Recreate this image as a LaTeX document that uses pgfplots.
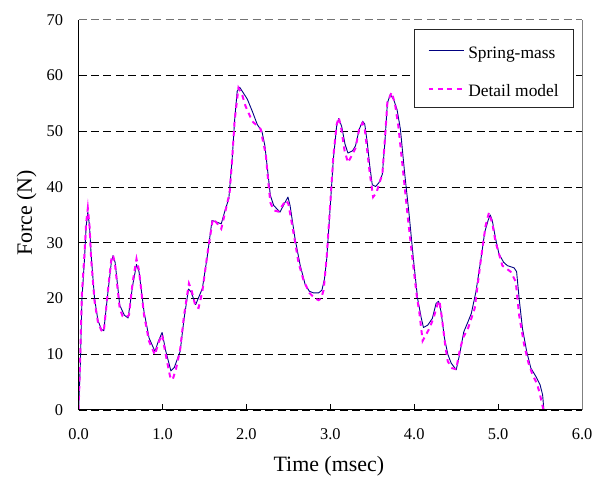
\documentclass[border=0pt]{standalone}
\usepackage{fontspec}
\setmainfont{Liberation Serif}
\usepackage{pgfplots}
\pgfplotsset{compat=1.18}
\usetikzlibrary{calc}
\definecolor{navyc}{RGB}{0,0,128}
\definecolor{magc}{RGB}{255,0,255}
\begin{document}
\begin{tikzpicture}
\begin{axis}[
  scale only axis, width=506bp, height=392bp,
  xmin=0, xmax=6, ymin=0, ymax=70,
  clip mode=individual,
  axis line style={draw=none},
  xtick={0,1,2,3,4,5,6},
  xticklabels={0.0,1.0,2.0,3.0,4.0,5.0,6.0},
  ytick={0,10,20,30,40,50,60},
  yticklabels={0,10,20,30,40,50,60},
  extra y ticks={70}, extra y tick labels={70},
  extra y tick style={major grid style={black!55, line width=0.8bp, dash pattern=on 8bp off 4.5bp}},
  xtick pos=left, ytick pos=left,
  tick align=inside, major tick length=6bp,
  x tick style={black, line width=0.9bp},
  y tick style={draw=none},
  ymajorgrids,
  major grid style={black, line width=0.8bp, dash pattern=on 8bp off 4.5bp},
  tick label style={font=\fontsize{16.5bp}{19bp}\selectfont},
  yticklabel style={xshift=-12bp},
  xticklabel style={yshift=-15bp},
  label style={font=\fontsize{22bp}{26bp}\selectfont},
  xlabel={Time (msec)},
  ylabel={Force (N)},
  xlabel style={at={(axis description cs:0.497,-0.159)}, anchor=base},
  ylabel style={at={(axis description cs:-0.0929,0.505)}, anchor=base, rotate=0},
  legend style={at={(axis description cs:0.984,0.977)}, anchor=north east,
    draw=black!85, line width=0.7bp, fill=white,
    font=\fontsize{17.5bp}{21bp}\selectfont,
    inner xsep=13bp, inner ysep=8.6bp, row sep=15.7bp, column sep=1bp,
    nodes={inner sep=2bp, text height=18.7bp, text depth=0pt},
    cells={anchor=west}},
  legend image code/.code={\path[draw=none,fill=none] (0bp,-4bp) rectangle (36bp,4bp); \draw[#1] (0bp,-1.45bp) -- (36bp,-1.45bp);},
]
\addplot[navyc, line width=0.9bp, line join=round] coordinates {
(0,0) (0.02,8) (0.04,20) (0.07,27) (0.09,33) (0.11,35.5) (0.13,33) (0.15,27.7) (0.19,20) (0.23,16.1) (0.27,14.5) (0.30,14.2) (0.35,21.2) (0.39,26.5) (0.41,27.7) (0.435,26.5) (0.49,18.8) (0.545,17.0) (0.59,16.5) (0.645,22.4) (0.69,26.1) (0.72,24.8) (0.78,17.6) (0.84,12.9) (0.91,10.5) (0.95,12.3) (0.995,13.9) (1.04,10.5) (1.10,7.0) (1.14,7.6) (1.21,10.5) (1.257,16.4) (1.31,21.7) (1.34,21.2) (1.395,18.9) (1.475,21.8) (1.535,27.7) (1.59,34.0) (1.63,33.8) (1.70,33.4) (1.745,35.8) (1.79,37.9) (1.83,45.0) (1.86,52.1) (1.89,57.2) (1.92,57.9) (1.95,57.2) (2.01,55.8) (2.07,53.6) (2.13,51.2) (2.185,50.0) (2.22,47.4) (2.26,42.0) (2.285,38.5) (2.325,36.7) (2.40,35.5) (2.455,37.1) (2.495,38.2) (2.52,36.7) (2.58,30.7) (2.64,26.0) (2.70,22.5) (2.75,21.3) (2.80,21.0) (2.86,21.0) (2.90,21.5) (2.93,23.5) (2.957,27.1) (2.997,36.1) (3.036,45.0) (3.075,50.9) (3.10,52.3) (3.135,50.9) (3.175,47.7) (3.21,46.1) (3.265,46.5) (3.30,47.4) (3.345,50.4) (3.385,51.8) (3.41,51.3) (3.44,48.0) (3.47,43.8) (3.50,40.4) (3.54,40.1) (3.58,40.8) (3.62,42.3) (3.65,48.0) (3.68,55.1) (3.715,56.6) (3.755,55.7) (3.795,53.9) (3.835,50.4) (3.885,42.6) (3.94,34.9) (3.99,27.1) (4.04,20) (4.085,16.4) (4.11,14.8) (4.16,15.2) (4.215,16.4) (4.26,19.1) (4.29,19.5) (4.32,17.6) (4.36,12.9) (4.40,10.0) (4.44,8.4) (4.50,7.2) (4.54,9.9) (4.59,14.0) (4.64,15.8) (4.68,17.3) (4.735,21.2) (4.795,27.1) (4.84,31.9) (4.88,34.0) (4.905,35.0) (4.93,34.0) (4.97,30.7) (5.01,28.0) (5.065,26.5) (5.11,25.9) (5.19,25.5) (5.22,24.8) (5.25,20) (5.29,14.6) (5.34,10.5) (5.39,7.5) (5.45,6.0) (5.50,4.5) (5.53,2.7) (5.545,0)
};
\addlegendentry{Spring-mass}
\addplot[magc, line width=2bp, dash pattern=on 5bp off 4.5bp] coordinates {
(0,0) (0.02,10) (0.04,21) (0.07,28) (0.09,33.5) (0.11,36.2) (0.13,33) (0.15,27) (0.19,19.5) (0.23,15.8) (0.27,14.3) (0.30,14.0) (0.35,21.5) (0.39,27) (0.41,27.8) (0.435,26) (0.49,18.2) (0.525,16.8) (0.56,16.6) (0.60,17) (0.645,23) (0.69,27.1) (0.72,25) (0.78,17) (0.84,12.3) (0.91,9.9) (0.95,12) (0.995,13.5) (1.04,9.8) (1.09,6.0) (1.12,5.4) (1.16,7.3) (1.21,10.8) (1.257,17) (1.315,22.7) (1.345,21.5) (1.395,18.5) (1.43,18.3) (1.475,21.3) (1.535,28) (1.60,34.3) (1.65,33.5) (1.70,32.5) (1.77,37) (1.80,39) (1.83,45) (1.86,52) (1.905,57.8) (1.95,56.5) (1.99,54.5) (2.07,51.8) (2.17,50.4) (2.20,48) (2.23,46) (2.26,41) (2.285,37.2) (2.33,35.8) (2.38,35.6) (2.47,37.6) (2.50,37) (2.56,31.9) (2.62,26.5) (2.68,23.3) (2.75,21) (2.82,20) (2.86,19.7) (2.89,20) (2.92,21.5) (2.957,27.5) (2.997,36.5) (3.036,45.5) (3.075,51.2) (3.10,52.5) (3.13,50.5) (3.17,46.5) (3.21,44.4) (3.25,45.5) (3.30,47) (3.345,50.5) (3.385,51.5) (3.41,50.5) (3.44,46.5) (3.47,42.5) (3.51,38.2) (3.55,39) (3.58,40.5) (3.62,42.3) (3.65,48.5) (3.68,55.2) (3.73,57.0) (3.77,55) (3.81,51) (3.865,43.2) (3.92,35) (3.98,27) (4.03,20.5) (4.06,17.6) (4.10,12.4) (4.14,13.5) (4.18,14.6) (4.23,16.5) (4.28,19.1) (4.30,19.6) (4.33,16.5) (4.37,11.5) (4.40,8.7) (4.45,7.5) (4.50,7.3) (4.54,10.5) (4.58,12.9) (4.64,14.6) (4.72,18.2) (4.795,27.1) (4.85,33) (4.89,35.4) (4.93,33.5) (4.97,30.1) (5.05,25.9) (5.15,24.8) (5.21,23.0) (5.25,17.0) (5.31,11.7) (5.36,8.5) (5.41,6.3) (5.46,4.8) (5.49,3.3) (5.54,0)
};
\addlegendentry{Detail model}
\draw[black, line width=1bp] (rel axis cs:0,0) -- (rel axis cs:1,0);
\draw[black, line width=1bp] (rel axis cs:0,0) -- (rel axis cs:0,1);
\draw[black!50, line width=0.9bp] (rel axis cs:1,0) -- (rel axis cs:1,1);
\coordinate (sw) at (rel axis cs:0,0);
\coordinate (ne) at (rel axis cs:1,1);
\end{axis}
\pgfresetboundingbox
\useasboundingbox ($(sw)+(-79bp,-69bp)$) rectangle ($(ne)+(11bp,20bp)$);
\end{tikzpicture}
\end{document}
